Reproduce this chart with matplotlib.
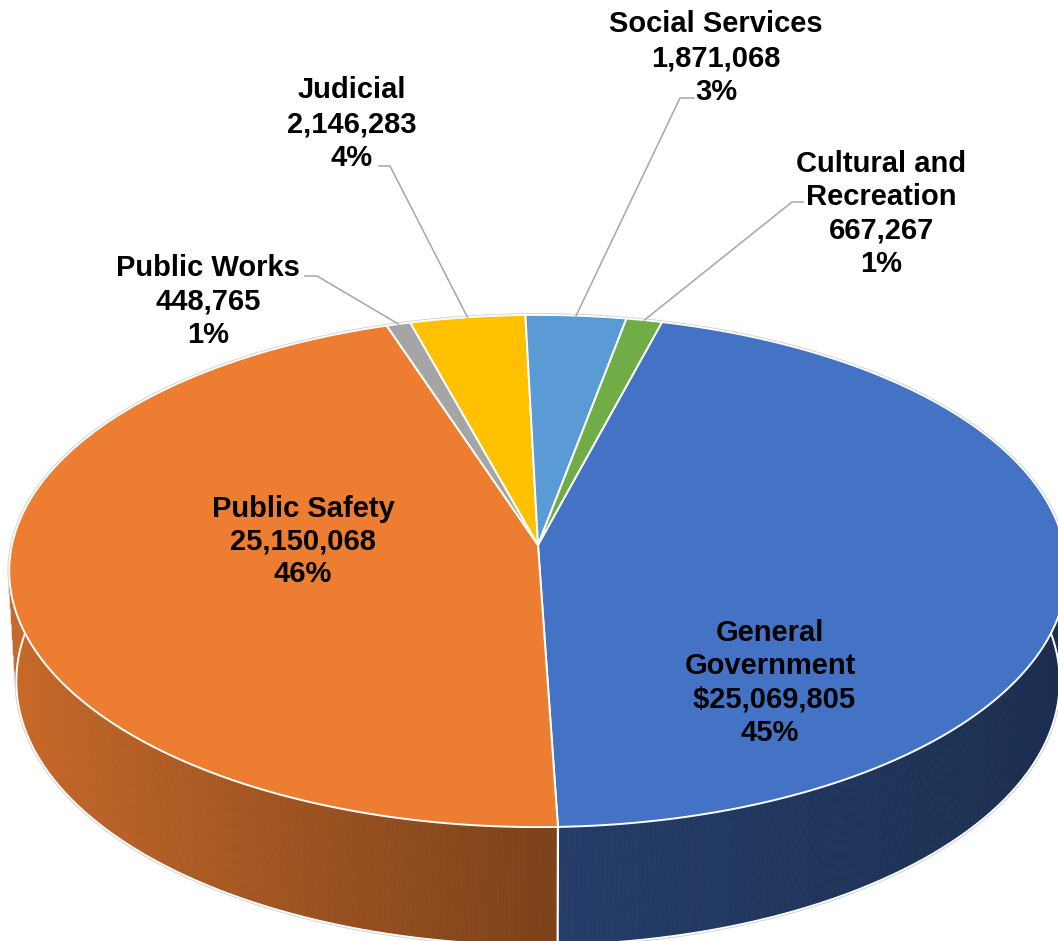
import numpy as np
import matplotlib
matplotlib.use("Agg")
import matplotlib.pyplot as plt
from matplotlib.collections import PolyCollection
from matplotlib.patches import Polygon
from matplotlib.colors import to_rgb

# ---- data -------------------------------------------------------------
categories = ["General Government", "Public Safety", "Public Works",
              "Judicial", "Social Services", "Cultural and Recreation"]
display_names = [["General", "Government"], ["Public Safety"], ["Public Works"],
                 ["Judicial"], ["Social Services"], ["Cultural and", "Recreation"]]
amounts = [25069805, 25150068, 448765, 2146283, 1871068, 667267]
pct_labels = ["45%", "46%", "1%", "4%", "3%", "1%"]
value_prefix = [" $", "", "", "", "", ""]
colors = ["#4472C4", "#ED7D31", "#A5A5A5", "#FFC000", "#5B9BD5", "#70AD47"]

# ---- canvas (pixel coordinates, y downwards) --------------------------
W, H = 1058, 941
fig = plt.figure(figsize=(W / 100, H / 100), dpi=100)
ax = fig.add_axes([0, 0, 1, 1])
ax.set_xlim(0, W)
ax.set_ylim(H, 0)
ax.axis("off")

# ---- perspective camera for the tilted disc ---------------------------
phi = np.radians(28.8)      # elevation of the eye
cam_d = 8.63                # eye distance in disc radii
scale = 4540.0
cx, cy = 538.0, 545.0       # where the disc centre lands
thick = 0.2417              # disc thickness in radii
start_angle = 15.0          # first slice starts here, clockwise from the back


def project(theta_deg, z=0.0):
    t = np.radians(theta_deg)
    X, Y = np.sin(t), np.cos(t)
    depth = cam_d + Y * np.cos(phi) - z * np.sin(phi)
    u = X / depth
    v = (Y * np.sin(phi) + z * np.cos(phi)) / depth
    return cx + scale * u, cy - scale * v


def convex_hull(points):
    pts = sorted(map(tuple, points))

    def cross(o, a, b):
        return (a[0] - o[0]) * (b[1] - o[1]) - (a[1] - o[1]) * (b[0] - o[0])

    lower, upper = [], []
    for p in pts:
        while len(lower) >= 2 and cross(lower[-2], lower[-1], p) <= 0:
            lower.pop()
        lower.append(p)
    for p in reversed(pts):
        while len(upper) >= 2 and cross(upper[-2], upper[-1], p) <= 0:
            upper.pop()
        upper.append(p)
    return lower[:-1] + upper[:-1]


vals = np.array(amounts, dtype=float)
fracs = vals / vals.sum()
edges = start_angle + 360.0 * np.concatenate([[0.0], np.cumsum(fracs)])

# outer silhouette: faint grey halo around the solid
full = np.linspace(0, 360, 721)
tx, ty = project(full, 0.0)
bx, by = project(full, -thick)
hull = convex_hull(np.column_stack([np.r_[tx, bx], np.r_[ty, by]]))
ax.add_patch(Polygon(hull, closed=True, facecolor="white", edgecolor="#c9c9c9",
                     lw=2.4, zorder=1, joinstyle="round"))


def wall_shade(x):
    return np.interp(x, [-1.0, 0.0, 1.0], [0.85, 0.53, 0.40])


# side wall, painted back to front
quads, qcols, qdepth = [], [], []
for i in range(len(vals)):
    a, b = edges[i], edges[i + 1]
    n = max(2, int(np.ceil((b - a) / 0.25)) + 1)
    th = np.linspace(a, b, n)
    base = np.array(to_rgb(colors[i]))
    for t0, t1 in zip(th[:-1], th[1:]):
        x0, y0 = project(t0, 0.0)
        x1, y1 = project(t1, 0.0)
        x2, y2 = project(t1, -thick)
        x3, y3 = project(t0, -thick)
        quads.append([(x0, y0), (x1, y1), (x2, y2), (x3, y3)])
        tm = np.radians(0.5 * (t0 + t1))
        qcols.append(tuple(np.clip(base * wall_shade(np.sin(tm)), 0, 1)))
        qdepth.append(np.cos(tm))
order = np.argsort(qdepth)[::-1]
ax.add_collection(PolyCollection([quads[k] for k in order],
                                 facecolors=[qcols[k] for k in order],
                                 edgecolors=[qcols[k] for k in order],
                                 linewidths=0.6, zorder=2))

# white bottom edge of the front wall
fr = np.linspace(80, 280, 401)
fbx, fby = project(fr, -thick)
ax.plot(fbx, fby, color="white", lw=1.4, zorder=2.5, solid_capstyle="round")

# white seams where slices meet on the visible wall
for e in edges[:-1]:
    if np.cos(np.radians(e)) < 0:
        sx0, sy0 = project(e, 0.0)
        sx1, sy1 = project(e, -thick)
        ax.plot([sx0, sx1], [sy0, sy1], color="white", lw=1.6, zorder=3)

# top face slices
for i in range(len(vals)):
    a, b = edges[i], edges[i + 1]
    n = max(2, int(np.ceil((b - a) / 0.25)) + 1)
    th = np.linspace(a, b, n)
    px, py = project(th, 0.0)
    poly = [(cx, cy)] + list(zip(px, py))
    ax.add_patch(Polygon(poly, closed=True, facecolor=colors[i],
                         edgecolor="white", lw=1.4, joinstyle="round", zorder=4))

# ---- labels -------------------------------------------------------------
font = dict(family=["Liberation Sans", "DejaVu Sans"], fontsize=21,
            fontweight="bold", color="black", ha="center", va="baseline",
            parse_math=False, zorder=6)

# label block: centre x, first baseline, line step
label_layout = [(770, 641, 33.3), (303, 517, 32.5), (208, 276, 33.3),
                (352, 98, 34.0), (716, 32, 34.0), (881, 172, 33.3)]
# leader lines: elbow and end point (None = label sits on the slice)
leader_layout = [None, None, ((317, 276), (305, 276)), ((390, 166), (379, 166)),
                 ((680, 98), (694, 98)), ((792, 202), (803, 202))]

for i in range(len(vals)):
    lines = display_names[i] + [f"{value_prefix[i]}{amounts[i]:,}", pct_labels[i]]
    lx, ly, step = label_layout[i]
    for k, line in enumerate(lines):
        ax.text(lx, ly + k * step, line, **font)
    if leader_layout[i] is not None:
        mid = 0.5 * (edges[i] + edges[i + 1])
        ax_, ay_ = project(mid, 0.0)
        (ex, ey), (hx, hy) = leader_layout[i]
        ax.plot([ax_, ex, hx], [ay_, ey, hy], color="#A6A6A6", lw=1.1, zorder=5)

fig.savefig("out.png", dpi=100, facecolor="white")
